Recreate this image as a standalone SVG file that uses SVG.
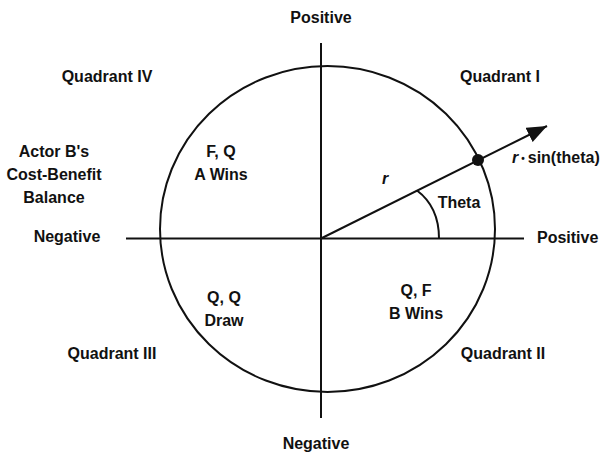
<svg xmlns="http://www.w3.org/2000/svg" width="608" height="455" viewBox="0 0 608 455">
<style>
text{font-family:"Liberation Sans",Arial,sans-serif;font-size:16px;font-weight:bold;fill:#111;text-anchor:middle}
.ln{stroke:#111;stroke-width:2;fill:none}
.it{font-style:italic}
</style>
<defs>
<marker id="ah" markerUnits="userSpaceOnUse" markerWidth="22" markerHeight="18" refX="20" refY="8" orient="auto">
<path d="M0,0 L20,8 L0,16 Z" fill="#111"/>
</marker>
</defs>
<rect width="608" height="455" fill="#fff"/>
<g id="connectors">
<ellipse class="ln" cx="327.5" cy="229" rx="167.5" ry="163"/>
<line class="ln" x1="321" y1="43" x2="321" y2="418"/>
<line class="ln" x1="126" y1="238.5" x2="524" y2="238.5"/>
<line class="ln" x1="321" y1="238.5" x2="547" y2="126" marker-end="url(#ah)"/>
<path class="ln" d="M417,190.5 C431,201 439,218 439,238.5"/>
<circle cx="478" cy="160" r="6" fill="#111"/>
</g>
<g id="axis-labels">
<text x="321" y="23">Positive</text>
<text x="316" y="449">Negative</text>
<text x="67" y="242">Negative</text>
<text x="537" y="243" style="text-anchor:start">Positive</text>
</g>
<g id="quadrants">
<text x="107" y="82">Quadrant IV</text>
<text x="500" y="82">Quadrant I</text>
<text x="112" y="359">Quadrant III</text>
<text x="503" y="359">Quadrant II</text>
</g>
<g id="actor-label">
<text x="54" y="157">Actor B's</text>
<text x="54" y="180">Cost-Benefit</text>
<text x="54" y="203">Balance</text>
</g>
<g id="outcomes">
<text x="221" y="157">F, Q</text>
<text x="221" y="180">A Wins</text>
<text x="224" y="303">Q, Q</text>
<text x="224" y="326">Draw</text>
<text x="416" y="296">Q, F</text>
<text x="416" y="319">B Wins</text>
</g>
<g id="vector-labels">
<text x="385" y="184" class="it">r</text>
<text x="459" y="208">Theta</text>
<text x="512" y="163" style="text-anchor:start"><tspan class="it">r</tspan><tspan font-size="10" dx="3" dy="-1">•</tspan><tspan dx="3" dy="1">sin(theta)</tspan></text>
</g>
</svg>
